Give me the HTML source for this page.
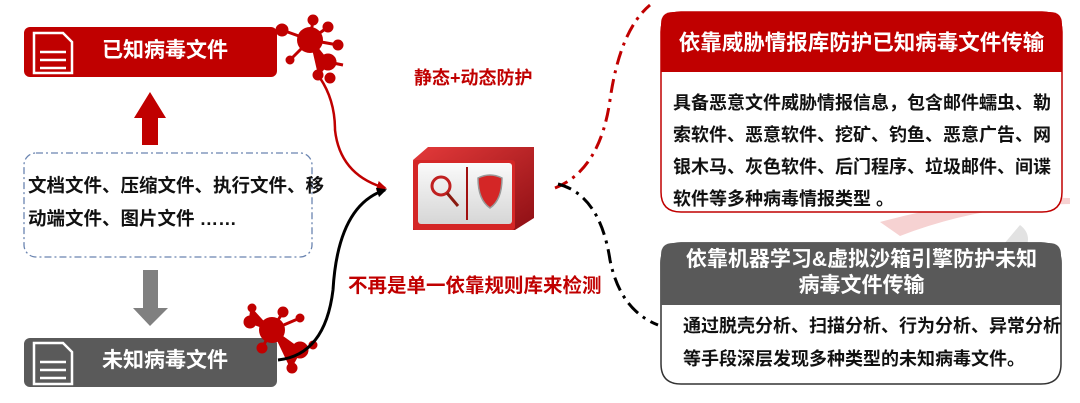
<!DOCTYPE html>
<html><head><meta charset="utf-8"><style>
body{margin:0;width:1080px;height:403px;background:#fff;position:relative;overflow:hidden;font-family:"Liberation Sans","Noto Sans CJK SC",sans-serif;font-weight:bold}
.a{position:absolute}
</style></head><body>
<svg class="a" style="left:0;top:0" width="1080" height="403">
<defs>
<marker id="ar" markerWidth="10" markerHeight="10" refX="8" refY="5" orient="auto" markerUnits="userSpaceOnUse"><path d="M0,0 L10,5 L0,10 z" fill="#c00000"/></marker>
<marker id="ab" markerWidth="10" markerHeight="10" refX="8" refY="5" orient="auto" markerUnits="userSpaceOnUse"><path d="M0,0 L10,5 L0,10 z" fill="#000"/></marker>
<linearGradient id="sg" x1="0" y1="0" x2="1" y2="1"><stop offset="0" stop-color="#e43a3a"/><stop offset="1" stop-color="#8e0f14"/></linearGradient>
<linearGradient id="pg" x1="0" y1="0" x2="0" y2="1"><stop offset="0" stop-color="#fafafa"/><stop offset="1" stop-color="#d6d6d6"/></linearGradient>
</defs>
<path d="M880,222 Q980,195 1070,198 L1070,204 Q980,205 900,236 Z" fill="#f6d2d2"/>
<path d="M1020,225 Q1040,240 1010,270 Q980,300 1020,330 Q1000,350 950,360 Q990,330 960,300 Q990,260 1020,225 Z" fill="#e2e2e2"/>
<rect x="24" y="27" width="253" height="50" rx="6" fill="#c00000"/>
<rect x="24" y="338" width="253" height="49" rx="6" fill="#5a5a5a"/>
<g fill="none" stroke="#fff" stroke-width="2.5">
<path d="M34,33 H63 L72,42 V73 H34 Z"/><path d="M40,52 H66 M40,60 H66 M40,68 H66" />
<path d="M34,343 H63 L72,352 V384 H34 Z"/><path d="M40,362 H66 M40,370 H66 M40,378 H66"/>
</g>
<path d="M134,118 L150,92 L166,118 L158,118 L158,145 L142,145 L142,118 Z" fill="#c00000"/>
<path d="M143,270 H158 V308 H168 L150,326 L133,308 H143 Z" fill="#808080"/>
<rect x="24" y="153" width="288" height="104" rx="12" fill="none" stroke="#6a84b0" stroke-width="1.3" stroke-dasharray="7,3,2,3"/>
<g fill="#c00000" stroke="#c00000">
<g stroke-width="3"><path d="M310,40 L282,30 M310,40 L313,20 M310,40 L328,27 M310,40 L338,45 M310,40 L290,60 M310,40 L328,62 L318,75 M328,62 L343,65"/></g>
<circle cx="310" cy="40" r="13" stroke="none"/><circle cx="282" cy="30" r="6"/><circle cx="313" cy="20" r="5"/><circle cx="328" cy="27" r="5"/><circle cx="338" cy="45" r="5"/><circle cx="290" cy="60" r="4"/><circle cx="328" cy="62" r="8"/><circle cx="318" cy="75" r="5"/><circle cx="330" cy="78" r="5"/>
<g stroke-width="3"><path d="M272,330 L250,322 L252,308 M272,330 L283,312 M272,330 L300,318 M272,330 L262,348 M272,330 L300,350 L290,368 M300,350 L315,345"/></g>
<circle cx="272" cy="330" r="13" stroke="none"/><circle cx="250" cy="322" r="6"/><circle cx="252" cy="308" r="4"/><circle cx="283" cy="312" r="5"/><circle cx="300" cy="318" r="4"/><circle cx="262" cy="348" r="5"/><circle cx="300" cy="350" r="8"/><circle cx="292" cy="368" r="5"/><circle cx="313" cy="345" r="4"/>
</g>
<path d="M320,78 Q335,100 335,130 Q340,175 385,188" fill="none" stroke="#c00000" stroke-width="2.5" marker-end="url(#ar)"/>
<path d="M278,360 Q325,355 333,290 Q338,205 385,190" fill="none" stroke="#000" stroke-width="3" marker-end="url(#ab)"/>
<path d="M555,188 Q600,170 610,100 Q620,30 650,5" fill="none" stroke="#c00000" stroke-width="3" stroke-dasharray="14,6,3,6"/>
<path d="M558,184 Q600,195 610,260 Q620,310 658,325" fill="none" stroke="#000" stroke-width="3" stroke-dasharray="14,6,3,6"/>
<path d="M413,160 L428,147 L534,147 L534,218 L515,230 L413,230 Z" fill="url(#sg)"/>
<rect x="413" y="160" width="102" height="70" rx="3" fill="#d42626"/>
<rect x="418" y="163" width="94" height="61" rx="3" fill="url(#pg)"/>
<line x1="467" y1="167" x2="467" y2="220" stroke="#a01010" stroke-width="2"/>
<circle cx="441" cy="186" r="9" fill="none" stroke="#c02020" stroke-width="3"/>
<line x1="447" y1="193" x2="458" y2="206" stroke="#8a1a10" stroke-width="3"/>
<path d="M478,178 Q490,172 502,178 Q502,200 490,208 Q478,200 478,178 Z" fill="#d42626" stroke="#999" stroke-width="1.5"/>
<path d="M681,12 H1042 Q1062,12 1062,32 V192 Q1062,212 1042,212 H681 Q661,212 661,192 V32 Q661,12 681,12 Z" fill="#fff" stroke="#c00000" stroke-width="1.5"/>
<path d="M673,12 H1050 Q1062,12 1062,24 V72 H661 V24 Q661,12 673,12 Z" fill="#c00000"/>
<path d="M681,243 H1041 Q1061,243 1061,263 V364 Q1061,384 1041,384 H681 Q661,384 661,364 V263 Q661,243 681,243 Z" fill="#fff" stroke="#333" stroke-width="1.5"/>
<path d="M673,243 H1049 Q1061,243 1061,255 V305 H661 V255 Q661,243 673,243 Z" fill="#595959"/>
</svg>
<div class="a" style="left:80px;top:37px;width:170px;text-align:center;color:#fff;font-size:21px;line-height:28px">已知病毒文件</div>
<div class="a" style="left:80px;top:347px;width:170px;text-align:center;color:#fff;font-size:21px;line-height:28px">未知病毒文件</div>
<div class="a" style="left:28px;top:169px;font-size:18.5px;line-height:33px;color:#111;white-space:nowrap">文档文件、压缩文件、执行文件、移<br>动端文件、图片文件 ……</div>
<div class="a" style="left:414px;top:64px;font-size:18px;color:#c00000;white-space:nowrap">静态+动态防护</div>
<div class="a" style="left:348px;top:269px;font-size:19.5px;color:#c00000;white-space:nowrap">不再是单一依靠规则库来检测</div>
<div class="a" style="left:661px;top:26px;width:401px;text-align:center;font-size:21.5px;color:#fff;white-space:nowrap">依靠威胁情报库防护已知病毒文件传输</div>
<div class="a" style="left:673px;top:87px;width:385px;font-size:18px;line-height:32px;color:#111;white-space:nowrap">具备恶意文件威胁情报信息，包含邮件蠕虫、勒<br>索软件、恶意软件、挖矿、钓鱼、恶意广告、网<br>银木马、灰色软件、后门程序、垃圾邮件、间谍<br>软件等多种病毒情报类型 。</div>
<div class="a" style="left:661px;top:247px;width:401px;text-align:center;font-size:21px;line-height:26px;color:#fff;white-space:nowrap">依靠机器学习&amp;虚拟沙箱引擎防护未知<br>病毒文件传输</div>
<div class="a" style="left:683px;top:310px;font-size:18px;line-height:33px;color:#111;white-space:nowrap">通过脱壳分析、扫描分析、行为分析、异常分析<br>等手段深层发现多种类型的未知病毒文件。</div>
</body></html>
